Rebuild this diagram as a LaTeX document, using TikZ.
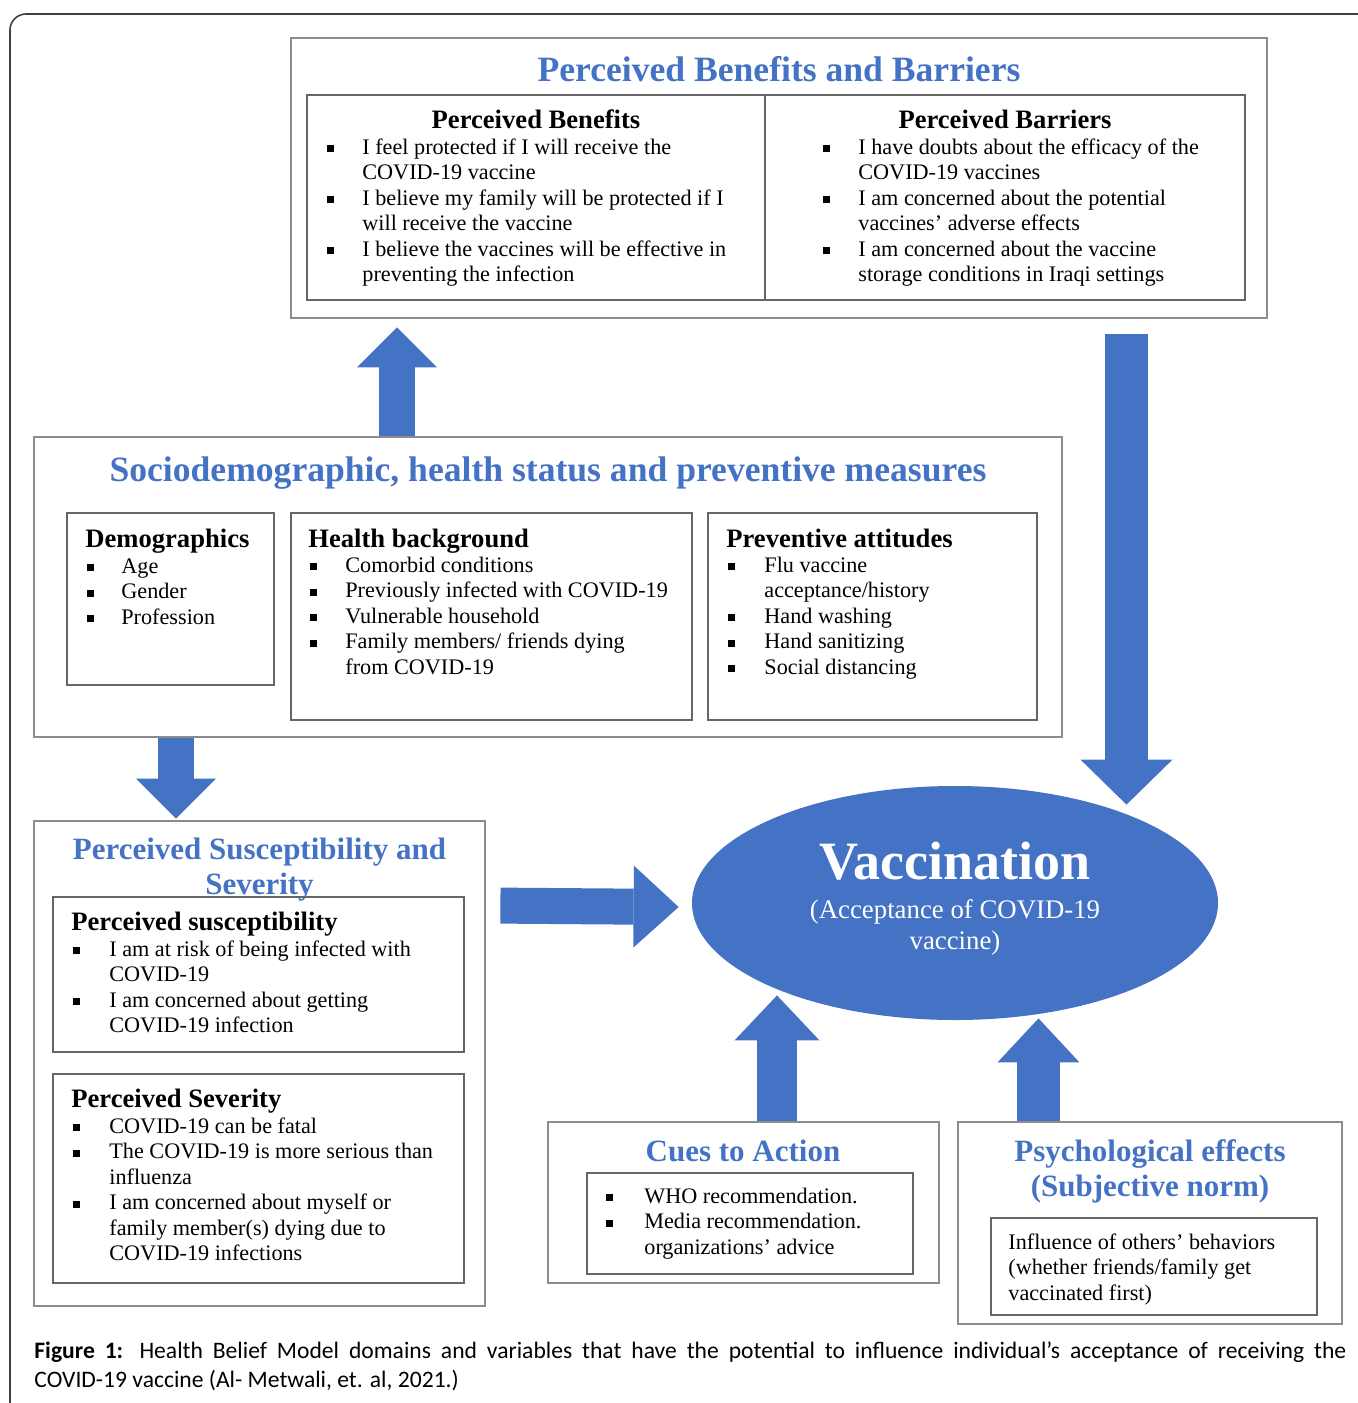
\documentclass[tikz,border=0pt]{standalone}
\usepackage{fontspec}
\setmainfont{Liberation Serif}
\newfontfamily\capfont{Carlito}
\usetikzlibrary{shapes.geometric,arrows.meta,calc}
\definecolor{hbmblue}{HTML}{4472C4}
\definecolor{boxgray}{HTML}{8C8C8C}
\newcommand{\sqb}{\rule[0.1em]{0.3em}{0.3em}}

\begin{document}
\begin{tikzpicture}[x=0.5pt, y=-0.5pt,
    outerbox/.style={draw=boxgray, line width=1.4pt, inner sep=0pt},
    innerbox/.style={draw=black!60, line width=0.9pt, inner sep=0pt},
    bigtitle/.style={text=hbmblue, font=\bfseries\fontsize{17.8}{21}\selectfont, anchor=base},
    midtitle/.style={text=hbmblue, font=\bfseries\fontsize{15.5}{17.5}\selectfont, align=center},
    header/.style={font=\bfseries\fontsize{13.3}{15}\selectfont, anchor=base west, inner sep=0pt},
    items/.style={font=\fontsize{11.1}{12.75}\selectfont, anchor=north west, inner sep=0pt, align=left},
    fatarrow/.style={draw=hbmblue, line width=18pt, -{Triangle[width=40pt,length=20pt,line width=0pt]}}
  ]
\useasboundingbox (0,0) rectangle (1358,1403);
\draw[black!75, line width=0.8pt, rounded corners=8pt] (10,1420) -- (10,14) -- (1370,14);

% benefits and barriers
\node[outerbox, minimum width=488pt, minimum height=140pt] (pbb) at (779,178) {};
\node[bigtitle] (pbbtitle) at (779,81) {Perceived Benefits and Barriers};
\node[innerbox, minimum width=229pt, minimum height=102.5pt] (ben) at (536,197.5) {};
\node[innerbox, minimum width=240pt, minimum height=102.5pt] (bar) at (1005,197.5) {};
\node[header, anchor=base] (benhead) at (536,128) {Perceived Benefits};
\node[items] (benlist) at (327,136) {\begin{tabular}{@{}p{17.5pt}@{}l@{}}
  \sqb & I feel protected if I will receive the\\
       & COVID-19 vaccine\\
  \sqb & I believe my family will be protected if I\\
       & will receive the vaccine\\
  \sqb & I believe the vaccines will be effective in\\
       & preventing the infection
\end{tabular}};
\node[header, anchor=base] (barhead) at (1005,128) {Perceived Barriers};
\node[items] (barlist) at (823,136) {\begin{tabular}{@{}p{17.5pt}@{}l@{}}
  \sqb & I have doubts about the efficacy of the\\
       & COVID-19 vaccines\\
  \sqb & I am concerned about the potential\\
       & vaccines’ adverse effects\\
  \sqb & I am concerned about the vaccine\\
       & storage conditions in Iraqi settings
\end{tabular}};

% sociodemographic block
\node[outerbox, minimum width=514pt, minimum height=150pt] (shs) at (548,587) {};
\node[bigtitle] (shstitle) at (548,481) {Sociodemographic, health status and preventive measures};
\node[innerbox, minimum width=103.5pt, minimum height=86pt] (demo) at (170.5,599) {};
\node[header] (demohead) at (85,547) {Demographics};
\node[items] (demolist) at (87,555) {\begin{tabular}{@{}p{17pt}@{}l@{}}
  \sqb & Age\\
  \sqb & Gender\\
  \sqb & Profession
\end{tabular}};
\node[innerbox, minimum width=200.5pt, minimum height=103.5pt] (health) at (491.5,616.5) {};
\node[header] (healthhead) at (308,547) {Health background};
\node[items] (healthlist) at (310,554) {\begin{tabular}{@{}p{17.5pt}@{}l@{}}
  \sqb & Comorbid conditions\\
  \sqb & Previously infected with COVID-19\\
  \sqb & Vulnerable household\\
  \sqb & Family members/ friends dying\\
       & from COVID-19
\end{tabular}};
\node[innerbox, minimum width=164.5pt, minimum height=103.5pt] (prev) at (872.5,616.5) {};
\node[header] (prevhead) at (726,547) {Preventive attitudes};
\node[items] (prevlist) at (728,554) {\begin{tabular}{@{}p{18pt}@{}l@{}}
  \sqb & Flu vaccine\\
       & acceptance/history\\
  \sqb & Hand washing\\
  \sqb & Hand sanitizing\\
  \sqb & Social distancing
\end{tabular}};

% susceptibility and severity
\node[outerbox, minimum width=225.5pt, minimum height=242.5pt] (pss) at (259.5,1063.5) {};
\node[midtitle] (psstitle) at (259.5,869.5) {Perceived Susceptibility and\\Severity};
\node[innerbox, minimum width=205.5pt, minimum height=77.5pt] (susc) at (258.5,974.5) {};
\node[header] (suschead) at (71,930) {Perceived susceptibility};
\node[items] (susclist) at (73,938) {\begin{tabular}{@{}p{18pt}@{}l@{}}
  \sqb & I am at risk of being infected with\\
       & COVID-19\\
  \sqb & I am concerned about getting\\
       & COVID-19 infection
\end{tabular}};
\node[innerbox, minimum width=205.5pt, minimum height=104.5pt] (sev) at (258.5,1178.5) {};
\node[header] (sevhead) at (71,1107) {Perceived Severity};
\node[items] (sevlist) at (73,1115) {\begin{tabular}{@{}p{18pt}@{}l@{}}
  \sqb & COVID-19 can be fatal\\
  \sqb & The COVID-19 is more serious than\\
       & influenza\\
  \sqb & I am concerned about myself or\\
       & family member(s) dying due to\\
       & COVID-19 infections
\end{tabular}};

% vaccination
\node[ellipse, fill=hbmblue, minimum width=263pt, minimum height=117pt, inner sep=0pt] (vac) at (955,903) {};
\node[text=white, font=\bfseries\fontsize{27}{30}\selectfont, anchor=base] (vactitle) at (955,879) {Vaccination};
\node[text=white, font=\fontsize{13.4}{15.5}\selectfont, align=center] (vacsub) at (955,927.5) {(Acceptance of COVID-19\\vaccine)};

% cues to action
\node[outerbox, minimum width=195.5pt, minimum height=80.5pt] (cues) at (743.5,1202.5) {};
\node[midtitle, anchor=base] (cuestitle) at (743,1161) {Cues to Action};
\node[innerbox, minimum width=163pt, minimum height=50.5pt] (cuesin) at (750,1223.5) {};
\node[items] (cueslist) at (606,1185) {\begin{tabular}{@{}p{19pt}@{}l@{}}
  \sqb & WHO recommendation.\\
  \sqb & Media recommendation.\\
       & organizations’ advice
\end{tabular}};

% psychological effects
\node[outerbox, minimum width=192pt, minimum height=101pt] (psych) at (1150,1223) {};
\node[midtitle] (psychtitle) at (1150,1171.5) {Psychological effects\\(Subjective norm)};
\node[innerbox, minimum width=163pt, minimum height=48.5pt] (psychin) at (1154,1266.5) {};
\node[items] (psychtxt) at (1008,1233) {Influence of others’ behaviors\\(whether friends/family get\\vaccinated first)};

% arrows
\draw[fatarrow] ($(shs.north)+(-151,0)$) -- ($(pbb.south)+(-382,8)$);
\draw[fatarrow, line width=21.5pt, -{Triangle[width=46pt,length=22.5pt,line width=0pt]}] ($(pbb.south)+(347.5,15)$) -- ($(vac.north)+(171.5,19)$);
\draw[fatarrow] ($(shs.south)+(-372,0)$) -- ($(pss.north)+(-83.5,-1)$);
\draw[fatarrow, -{Triangle[width=41pt,length=22.5pt,line width=0pt]}] ($(pss.north east)+(14,86)$) -- ($(vac.west)+(-13,4)$);
\draw[fatarrow, line width=20pt, -{Triangle[width=42.5pt,length=22.5pt,line width=0pt]}] ($(cues.north)+(33.5,0)$) -- ($(vac.south)+(-178,-25)$);
\draw[fatarrow, line width=21.5pt, -{Triangle[width=41pt,length=22pt,line width=0pt]}] ($(psych.north)+(-111.5,0)$) -- ($(vac.south)+(83.5,-2)$);

% caption
\node[font=\capfont\fontsize{11.8}{14.5}\selectfont, anchor=north west, inner sep=0pt, align=left] (caption) at (34,1341) {\makebox[656pt][s]{\textbf{Figure 1:} Health Belief Model domains and variables that have the potential to influence individual’s acceptance of receiving the}\\COVID-19 vaccine (Al- Metwali, et. al, 2021.)};
\end{tikzpicture}
\end{document}
